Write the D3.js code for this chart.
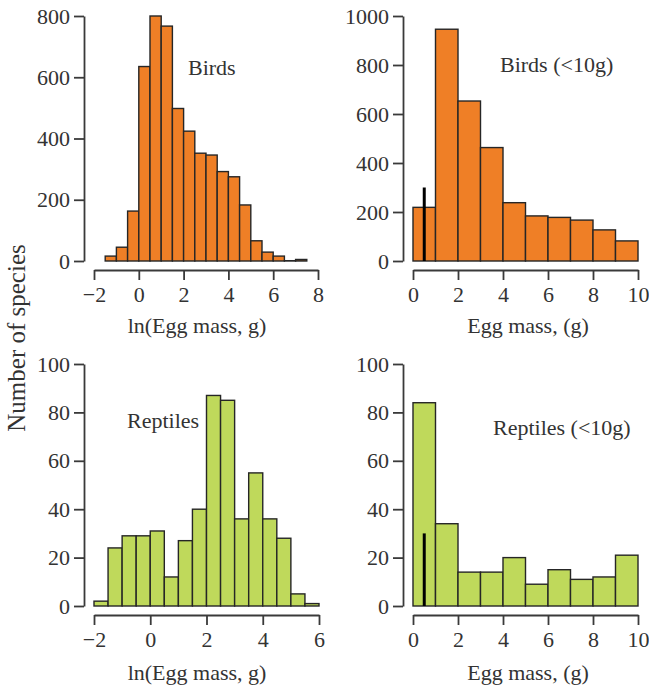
<!DOCTYPE html>
<html>
<head>
<meta charset="utf-8">
<script src="https://cdn.jsdelivr.net/npm/d3@7"></script>
<style>
  body { margin: 0; background: #fff; }
  text { font-family: "Liberation Serif", "DejaVu Serif", serif; fill: #333; }
</style>
</head>
<body>
<svg id="chart" width="649" height="689"></svg>
<script>
// histogram counts
var birdsLnStart = -1.5, birdsLnWidth = 0.5;
var birdsLnCounts = [16, 45, 163, 635, 800, 767, 498, 424, 352, 346, 292, 275, 183, 66, 29, 16, 1, 5];

var birdsSmallStart = 0, birdsSmallWidth = 1;
var birdsSmallCounts = [219, 946, 653, 463, 238, 184, 178, 167, 127, 82];
var birdsMarker = [0.5, 300];

var reptLnStart = -2, reptLnWidth = 0.5;
var reptLnCounts = [2, 24, 29, 29, 31, 12, 27, 40, 87, 85, 36, 55, 36, 28, 5, 1];

var reptSmallStart = 0, reptSmallWidth = 1;
var reptSmallCounts = [84, 34, 14, 14, 20, 9, 15, 11, 12, 21];
var reptMarker = [0.5, 30];

// tick labels
var birdsYTicks = [0, 200, 400, 600, 800];
var birdsSmallYTicks = [0, 200, 400, 600, 800, 1000];
var reptYTicks = [0, 20, 40, 60, 80, 100];
var birdsLnXTicks = [-2, 0, 2, 4, 6, 8];
var reptLnXTicks = [-2, 0, 2, 4, 6];
var smallXTicks = [0, 2, 4, 6, 8, 10];

var orange = "#ef7f26", green = "#bfd95b";
var fmt = d3.format("d");

var svg = d3.select("#chart");

function bins(start, width, counts) {
    return counts.map(function(c, i) {
        return { x0: start + i * width, x1: start + (i + 1) * width, n: c };
    });
}

function panel(o) {
    var x = d3.scaleLinear().domain(o.xDomain).range(o.xRange);
    var y = d3.scaleLinear().domain(o.yDomain).range(o.yRange);
    var g = svg.append("g");

    g.selectAll("rect.bar")
        .data(o.data)
        .enter().append("rect")
        .attr("class", "bar")
        .attr("x", function(d) { return x(d.x0); })
        .attr("width", function(d) { return x(d.x1) - x(d.x0); })
        .attr("y", function(d) { return y(d.n); })
        .attr("height", function(d) { return y(0) - y(d.n); })
        .attr("fill", o.color)
        .attr("stroke", "#262626")
        .attr("stroke-width", 1.4);

    if (o.marker) {
        g.append("line")
            .attr("x1", x(o.marker[0])).attr("x2", x(o.marker[0]))
            .attr("y1", y(0)).attr("y2", y(o.marker[1]))
            .attr("stroke", "#000").attr("stroke-width", 3);
    }

    // y axis sits a little left of the bars
    var yAx = g.append("g")
        .attr("transform", "translate(" + o.yAxisX + ",0)")
        .call(d3.axisLeft(y).tickValues(o.yTicks).tickFormat(fmt)
            .tickSize(10).tickPadding(4).tickSizeOuter(0));

    // x axis is a separate line below the bars
    var xAx = g.append("g")
        .attr("transform", "translate(0," + o.xAxisY + ")")
        .call(d3.axisBottom(x).tickValues(o.xTicks).tickSize(10).tickPadding(6).tickSizeOuter(0));

    [yAx, xAx].forEach(function(a) {
        a.attr("font-family", null);
        a.select(".domain").attr("stroke", "#3a3a3a").attr("stroke-width", 1.8);
        a.selectAll(".tick line").attr("stroke", "#3a3a3a").attr("stroke-width", 1.8);
        a.selectAll(".tick text").attr("fill", "#333")
            .style("font-family", '"Liberation Serif", serif').style("font-size", "22px");
    });

    g.append("text")
        .attr("x", o.xLabelPos[0]).attr("y", o.xLabelPos[1])
        .attr("text-anchor", "middle")
        .style("font-size", "22px")
        .text(o.xLabel);

    g.append("text")
        .attr("x", o.namePos[0]).attr("y", o.namePos[1])
        .style("font-size", "22px")
        .text(o.name);
}

panel({
    data: bins(birdsLnStart, birdsLnWidth, birdsLnCounts), color: orange,
    xDomain: [-2, 8], xRange: [94, 318], yDomain: [0, 800], yRange: [261, 16],
    yAxisX: 84, xAxisY: 270, yTicks: birdsYTicks, xTicks: birdsLnXTicks,
    xLabel: "ln(Egg mass, g)", xLabelPos: [197, 333],
    name: "Birds", namePos: [188, 75]
});

panel({
    data: bins(birdsSmallStart, birdsSmallWidth, birdsSmallCounts), color: orange,
    xDomain: [0, 10], xRange: [413, 638], yDomain: [0, 1000], yRange: [261, 16],
    yAxisX: 403, xAxisY: 270, yTicks: birdsSmallYTicks, xTicks: smallXTicks,
    marker: birdsMarker,
    xLabel: "Egg mass, (g)", xLabelPos: [528, 333],
    name: "Birds (<10g)", namePos: [500, 72]
});

panel({
    data: bins(reptLnStart, reptLnWidth, reptLnCounts), color: green,
    xDomain: [-2, 6], xRange: [94, 319], yDomain: [0, 100], yRange: [606, 364],
    yAxisX: 84, xAxisY: 615, yTicks: reptYTicks, xTicks: reptLnXTicks,
    xLabel: "ln(Egg mass, g)", xLabelPos: [197, 680],
    name: "Reptiles", namePos: [127, 428]
});

panel({
    data: bins(reptSmallStart, reptSmallWidth, reptSmallCounts), color: green,
    xDomain: [0, 10], xRange: [413, 638], yDomain: [0, 100], yRange: [606, 364],
    yAxisX: 403, xAxisY: 615, yTicks: reptYTicks, xTicks: smallXTicks,
    marker: reptMarker,
    xLabel: "Egg mass, (g)", xLabelPos: [528, 680],
    name: "Reptiles (<10g)", namePos: [493, 435]
});

svg.append("text")
    .attr("transform", "translate(25,338) rotate(-90)")
    .attr("text-anchor", "middle")
    .style("font-size", "25px")
    .text("Number of species");
</script>
</body>
</html>
